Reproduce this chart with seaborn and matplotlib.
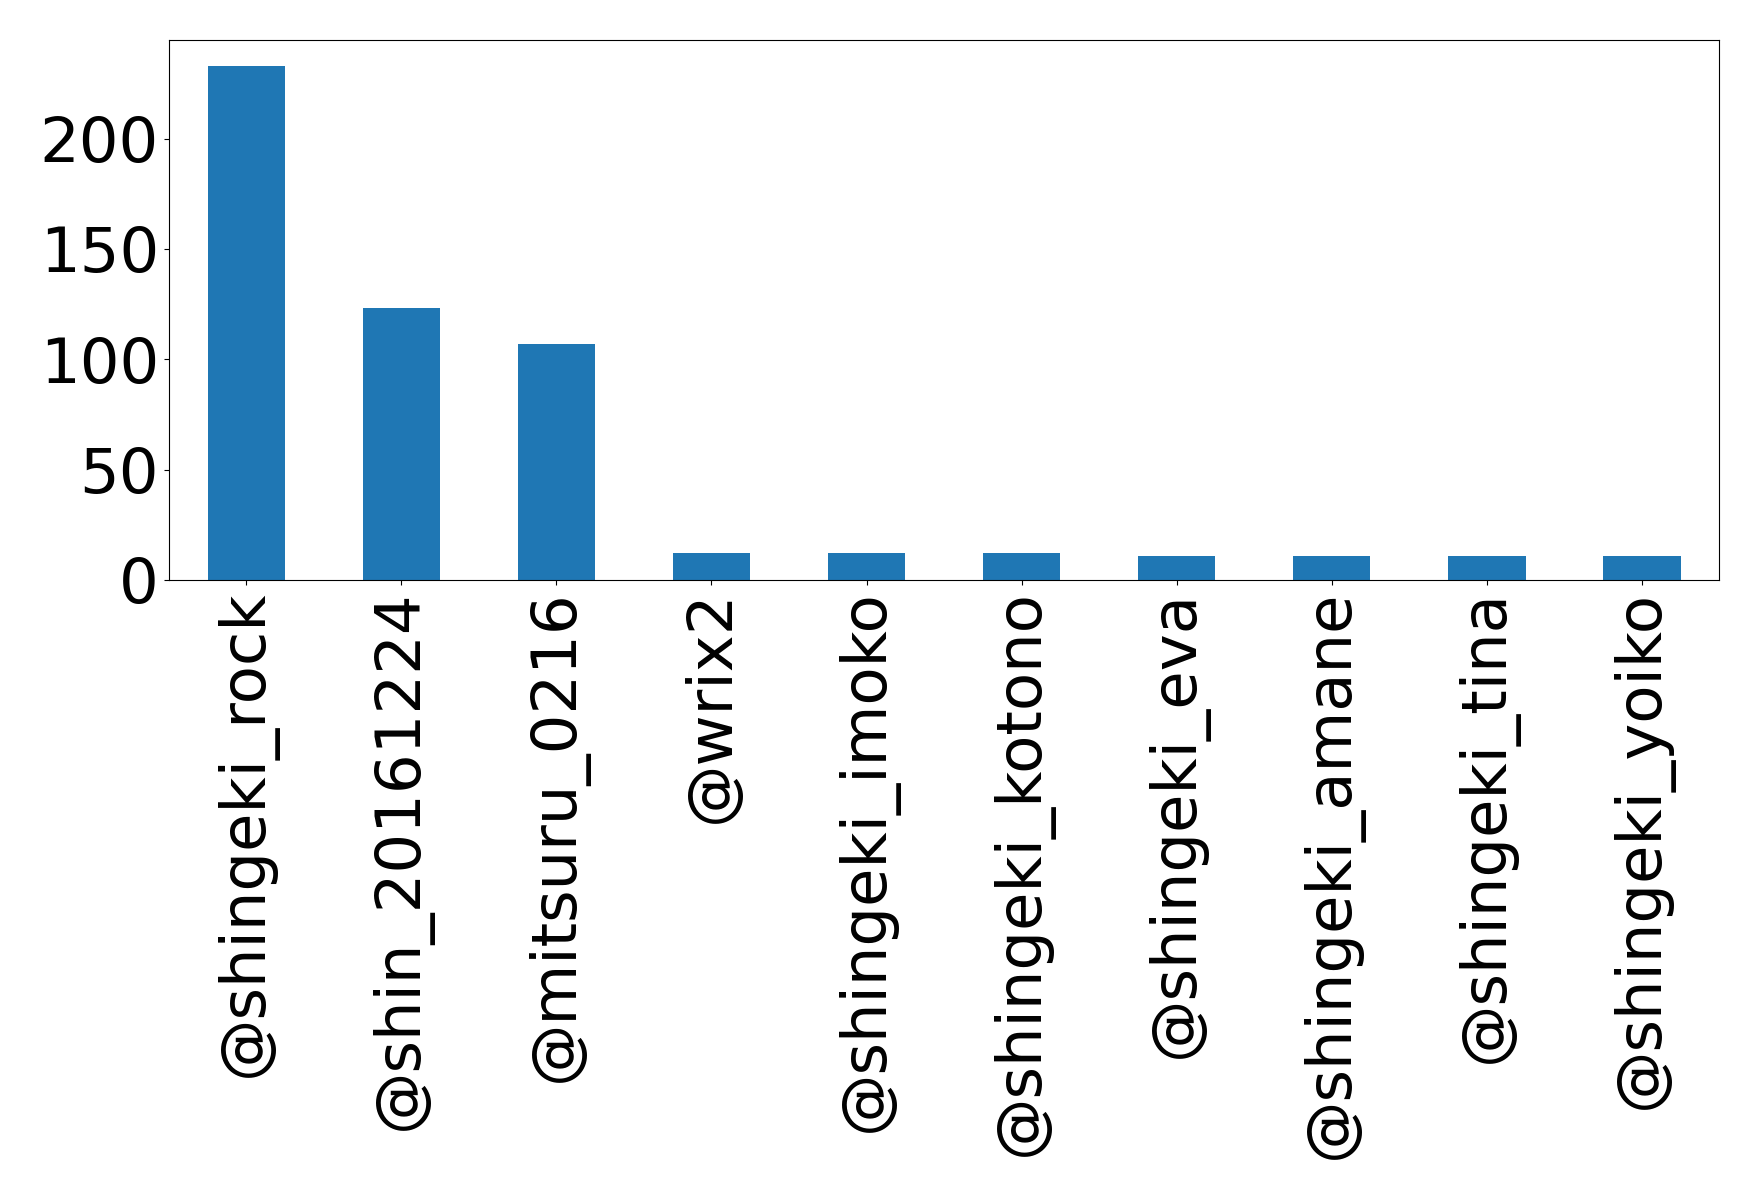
import matplotlib
matplotlib.use("Agg")
import matplotlib.pyplot as plt
import seaborn as sns
import pandas as pd

users = ["@shingeki_rock", "@shin_20161224", "@mitsuru_0216", "@wrix2",
         "@shingeki_imoko", "@shingeki_kotono", "@shingeki_eva",
         "@shingeki_amane", "@shingeki_tina", "@shingeki_yoiko"]
counts = [233, 123, 107, 12, 12, 12, 11, 11, 11, 11]

df = pd.DataFrame({"user": users, "count": counts})

plt.rcParams['font.family'] = ['DejaVu Sans']
fig = plt.figure(figsize=(17.58, 11.98), dpi=100)
ax = fig.add_axes([0.096, 0.516, 0.882, 0.4506])
sns.barplot(data=df, x="user", y="count", color="#1f77b4", saturation=1,
            width=0.5, ax=ax, errorbar=None)
ax.set_xlim(-0.5, len(users) - 0.5)
ax.set_ylim(0, max(counts) * 1.05)
ax.set_xlabel("")
ax.set_ylabel("")
ax.tick_params(axis='both', labelsize=45)
ax.tick_params(axis='x', rotation=90)
ax.set_yticks([0, 50, 100, 150, 200])
fig.savefig("out.png", dpi=100)
